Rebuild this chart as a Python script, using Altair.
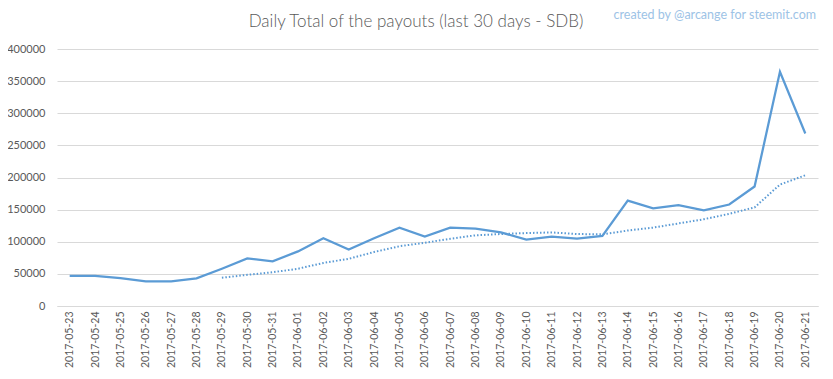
import altair as alt
import pandas as pd

dates = [
    "2017-05-23", "2017-05-24", "2017-05-25", "2017-05-26", "2017-05-27", "2017-05-28",
    "2017-05-29", "2017-05-30", "2017-05-31", "2017-06-01", "2017-06-02", "2017-06-03",
    "2017-06-04", "2017-06-05", "2017-06-06", "2017-06-07", "2017-06-08", "2017-06-09",
    "2017-06-10", "2017-06-11", "2017-06-12", "2017-06-13", "2017-06-14", "2017-06-15",
    "2017-06-16", "2017-06-17", "2017-06-18", "2017-06-19", "2017-06-20", "2017-06-21",
]
payouts = [
    47000, 47000, 43500, 38500, 38500, 43000,
    58000, 74000, 69500, 85000, 105500, 88000,
    105500, 122000, 108000, 122000, 120500, 114500,
    103500, 108000, 105000, 109000, 164000, 152000,
    157000, 149000, 158000, 186000, 364500, 268500,
]
avg_dates = dates[6:]
moving_avg = [
    44000, 48500, 52500, 58000, 67000, 73500,
    84000, 93000, 98500, 104500, 110000, 112000,
    113500, 114500, 112000, 111500, 117500, 122000,
    128500, 135000, 143500, 153500, 189000, 203500,
]

title_text = "Daily Total of the payouts (last 30 days - SDB)"
watermark = "created by @arcange for steemit.com"

df = pd.DataFrame({"date": dates, "value": payouts})
df_avg = pd.DataFrame({"date": avg_dates, "value": moving_avg})

blue = "#5B9BD5"
font = "Lato"

x_enc = alt.X(
    "date:O",
    sort=dates,
    scale=alt.Scale(domain=dates),
    axis=alt.Axis(
        title=None, labelAngle=-90, ticks=False, domainColor="#d9d9d9",
        labelColor="#595959", labelFontSize=10.5, labelFont=font, labelPadding=5,
    ),
)
y_enc = alt.Y(
    "value:Q",
    scale=alt.Scale(domain=[0, 400000], nice=False),
    axis=alt.Axis(
        title=None, values=list(range(0, 400001, 50000)), format="d", ticks=False,
        domain=False, gridColor="#d9d9d9", labelColor="#595959", labelFontSize=11,
        labelFont=font, labelPadding=12,
    ),
)

solid = alt.Chart(df).mark_line(color=blue, strokeWidth=2.25).encode(x=x_enc, y=y_enc)
dotted = alt.Chart(df_avg).mark_line(
    color=blue, strokeWidth=2, strokeDash=[1.5, 2]
).encode(x=x_enc, y=y_enc)

wm = alt.Chart(pd.DataFrame({"t": [watermark]})).mark_text(
    align="right", baseline="middle", fontSize=12.5, font=font, color="#9DC3E6"
).encode(text="t:N", x=alt.value(759), y=alt.value(-34))

ttl = alt.Chart(pd.DataFrame({"t": [title_text]})).mark_text(
    align="center", baseline="middle", fontSize=17, font=font, fontWeight=300,
    color="#595959"
).encode(text="t:N", x=alt.value(359), y=alt.value(-27))

chart = alt.layer(solid, dotted, wm, ttl).properties(
    width=761,
    height=257,
    autosize=alt.AutoSizeParams(type="none"),
    padding={"left": 49, "top": 41, "right": 7, "bottom": 62},
).configure_view(stroke=None)

chart.save("out.html", embed_options={"renderer": "svg", "actions": False})
